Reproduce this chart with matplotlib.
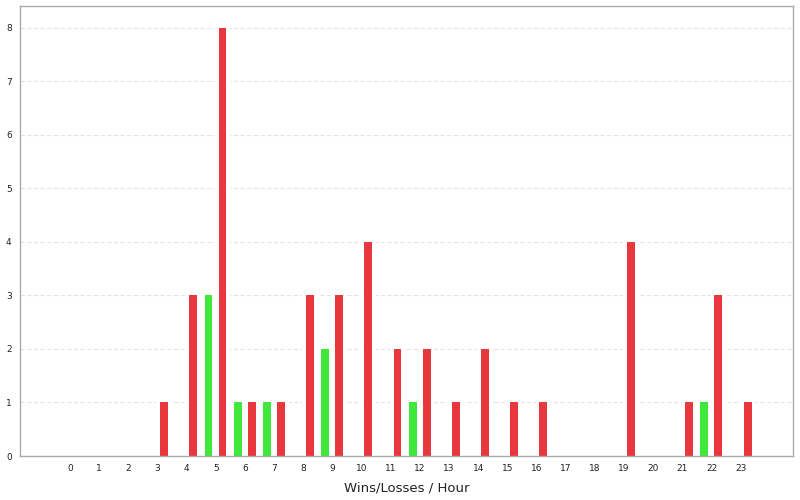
import numpy as np
import matplotlib
matplotlib.use("Agg")
import matplotlib.pyplot as plt

# Data per hour
hours = list(range(24))
wins = [0, 0, 0, 0, 0, 3, 1, 1, 0, 2, 0, 0, 1, 0, 0, 0, 0, 0, 0, 0, 0, 0, 1, 0]
losses = [0, 0, 0, 1, 3, 8, 1, 1, 3, 3, 4, 2, 2, 1, 2, 1, 1, 0, 0, 4, 0, 1, 3, 1]

win_color = "#3fe83a"
loss_color = "#e8383d"

fig = plt.figure(figsize=(8, 5), dpi=100)
ax = fig.add_axes([0.025, 0.088, 0.966, 0.9])

x = np.array(hours)
w = 0.27
win_x = x - 0.25
loss_x = x + 0.23

# white halo behind the bars, breaks the grid lines like the original
for xs, vals in ((win_x, wins), (loss_x, losses)):
    v = np.array(vals, dtype=float)
    ax.bar(xs, np.where(v > 0, v + 0.07, 0), width=w + 0.26, color="white", linewidth=0, zorder=1)

ax.bar(win_x, wins, width=w, color=win_color, linewidth=0, zorder=2)
ax.bar(loss_x, losses, width=w, color=loss_color, linewidth=0, zorder=2)

ax.set_xlim(-1.71, 24.78)
ax.set_ylim(0, 8.41)
ax.set_xticks(x)
ax.set_xticklabels([str(h) for h in hours], fontsize=6.5)
ax.set_yticks(range(9))
ax.tick_params(axis="y", labelsize=6.5, length=0, pad=6, labelcolor="#222222")
ax.tick_params(axis="x", length=0, pad=6, labelcolor="#222222")

ax.grid(axis="y", color="#e4e4e4", linestyle=(0, (4, 2)), linewidth=0.8, zorder=0.5)
ax.set_axisbelow(True)
for s in ax.spines.values():
    s.set_color("#aaaaaa")
    s.set_linewidth(1)
    s.set_zorder(3)

ax.set_xlabel("Wins/Losses / Hour", fontsize=9.5, labelpad=6, color="#222222")

fig.savefig("out.png", dpi=100)
